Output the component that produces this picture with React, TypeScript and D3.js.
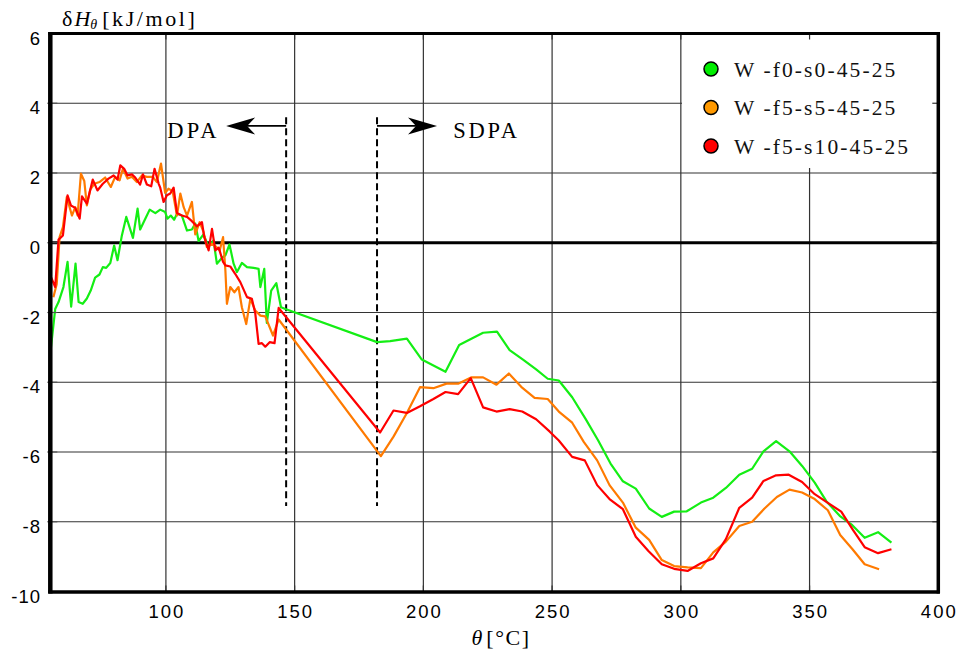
import React from "react";
import * as d3 from "d3";

const X_TICKS = [100, 150, 200, 250, 300, 350, 400];
const Y_TICKS = [6, 4, 2, 0, -2, -4, -6, -8, -10];

const greenSeries: [number, number][] = [
  [55.3, -3.04], [57, -1.9], [58.3, -1.7], [60.2, -1.27], [61.8, -0.55], [63.2, -1.83], [64.9, -0.6],
  [66.1, -1.7], [67.7, -1.75], [69.3, -1.6], [70.8, -1.37], [72.5, -1.0], [74.2, -0.91], [75.5, -0.7],
  [76.8, -0.72], [78.4, -0.58], [79.9, -0.08], [81.2, -0.5], [82.9, 0.21], [84.6, 0.74], [87.2, 0.14],
  [89.0, 0.98], [90.0, 0.38], [92.0, 0.69], [93.7, 0.95], [95.9, 0.85], [97.8, 0.95], [99.7, 0.88],
  [100.6, 0.69], [101.9, 0.78], [103.2, 0.66], [104.3, 0.83], [106.2, 0.78], [108.2, 0.35], [110.1, 0.38],
  [111.4, 0.55], [112.7, 0.05], [114.6, 0.24], [116.6, -0.12], [118.5, 0.07], [119.8, -0.6], [121.8, -0.43],
  [123.1, -0.36], [124.7, -0.05], [126.3, -0.6], [127.6, -0.84], [129.5, -0.58], [131.5, -0.7], [134.1, -0.72],
  [136.0, -0.75], [136.7, -1.27], [138.2, -0.75], [139.2, -2.3], [140.9, -1.37], [142.9, -1.16], [144.7, -1.85],
  [146.4, -1.9], [182.0, -2.85], [187.1, -2.82], [193.6, -2.75], [199.4, -3.35], [208.6, -3.7], [213.9, -2.93],
  [223.2, -2.58], [228.6, -2.55], [233.5, -3.08], [238.7, -3.35], [243.8, -3.63], [248.3, -3.9], [252.6, -3.95],
  [257.8, -4.43], [263.0, -5.05], [267.9, -5.67], [272.7, -6.33], [277.5, -6.84], [282.5, -7.05], [287.7, -7.62],
  [292.6, -7.86], [297.4, -7.71], [302.3, -7.7], [307.8, -7.45], [312.6, -7.31], [317.5, -7.03], [322.7, -6.65],
  [327.7, -6.48], [332.1, -5.98], [337.0, -5.69], [342.2, -5.98], [347.1, -6.4], [352.0, -6.88], [356.5, -7.41],
  [361.7, -7.83], [366.6, -8.1], [371.4, -8.46], [376.6, -8.3], [381.8, -8.6],
];

const orangeSeries: [number, number][] = [
  [56.3, -1.56], [57.6, -1.18], [58.7, 0.16], [60.0, 0.45], [61.5, 1.31], [63.5, 0.78], [64.8, 1.02],
  [65.7, 0.78], [67.0, 1.98], [68.3, 1.77], [69.3, 1.07], [70.6, 1.52], [72.2, 1.69], [74.2, 1.74],
  [76.4, 1.87], [78.6, 1.6], [80.3, 1.89], [82.0, 1.79], [83.3, 2.12], [85.1, 1.84], [86.8, 1.89],
  [88.7, 1.74], [90.7, 1.93], [92.6, 1.89], [94.9, 1.89], [96.5, 1.74], [98.1, 2.27], [99.7, 1.43],
  [101.0, 1.55], [102.6, 1.48], [104.3, 0.78], [105.6, 1.41], [106.9, 1.02], [108.2, 0.78], [110.1, 1.17],
  [111.4, 0.24], [113.1, 0.59], [114.6, 0.31], [115.9, -0.12], [117.9, -0.03], [119.6, -0.12], [120.9, -0.22],
  [122.2, 0.16], [123.1, -0.79], [123.7, -1.75], [125.0, -1.27], [126.6, -1.42], [128.2, -1.27], [129.5, -1.85],
  [131.2, -2.33], [132.8, -1.61], [134.7, -1.94], [136.7, -2.09], [138.6, -2.11], [141.6, -2.66], [143.8, -2.2],
  [183.5, -6.12], [188.4, -5.56], [193.6, -4.88], [198.7, -4.14], [203.9, -4.17], [209.0, -4.04], [213.5, -4.04],
  [218.7, -3.86], [223.2, -3.86], [228.4, -4.07], [233.2, -3.75], [238.0, -4.13], [243.2, -4.45], [248.3, -4.48],
  [252.6, -4.84], [257.8, -5.16], [262.3, -5.71], [267.5, -6.24], [272.3, -6.95], [277.5, -7.45], [282.5, -8.17],
  [287.7, -8.52], [292.6, -9.1], [297.4, -9.27], [302.6, -9.31], [307.8, -9.33], [312.6, -8.88], [317.5, -8.57],
  [322.7, -8.12], [327.7, -8.0], [332.5, -7.62], [337.3, -7.29], [342.2, -7.08], [347.1, -7.16], [352.0, -7.35],
  [357.1, -7.67], [361.9, -8.38], [366.6, -8.78], [371.4, -9.22], [377.0, -9.36],
];

const redSeries: [number, number][] = [
  [55.3, -0.97], [57.0, -1.27], [58.3, 0.09], [60.0, 0.21], [61.8, 1.36], [63.1, 1.07], [64.8, 1.0],
  [66.5, 0.69], [67.4, 1.33], [69.3, 1.12], [71.6, 1.81], [73.4, 1.5], [75.5, 1.69], [77.7, 1.84],
  [79.7, 1.93], [81.2, 1.81], [82.3, 2.22], [83.8, 2.12], [85.1, 1.93], [86.8, 1.96], [88.1, 1.87],
  [90.0, 1.67], [91.1, 1.96], [92.6, 1.67], [94.3, 1.62], [95.6, 2.12], [97.2, 1.69], [97.8, 1.58],
  [99.1, 1.17], [100.4, 1.36], [101.7, 1.41], [103.0, 1.58], [104.3, 0.85], [106.2, 0.78], [108.2, 0.74],
  [110.1, 0.62], [112.0, 0.47], [114.0, 0.59], [114.9, 0.16], [116.6, -0.22], [117.9, 0.4], [119.2, -0.22],
  [120.5, -0.14], [122.2, -0.55], [123.1, -0.65], [125.0, -0.68], [126.9, -0.89], [128.9, -1.13], [131.5, -1.56],
  [133.4, -1.61], [134.7, -2.02], [136.0, -2.9], [137.3, -2.88], [138.6, -2.98], [140.3, -2.85], [142.2, -2.88],
  [143.8, -1.87], [183.2, -5.44], [188.4, -4.81], [193.6, -4.88], [198.7, -4.69], [203.9, -4.48], [208.6, -4.28],
  [213.5, -4.34], [218.4, -3.88], [223.2, -4.72], [228.4, -4.84], [233.5, -4.77], [238.4, -4.84], [243.8, -5.06],
  [249.0, -5.41], [252.6, -5.67], [257.8, -6.14], [262.7, -6.24], [267.5, -6.95], [272.3, -7.35], [277.5, -7.64],
  [282.5, -8.43], [287.4, -8.84], [292.6, -9.22], [297.4, -9.35], [302.6, -9.41], [307.8, -9.19], [312.6, -9.05],
  [317.5, -8.5], [322.7, -7.6], [327.7, -7.31], [332.1, -6.83], [337.0, -6.67], [341.9, -6.65], [347.1, -6.86],
  [352.0, -7.21], [357.1, -7.46], [362.3, -7.71], [366.9, -8.24], [371.4, -8.73], [376.6, -8.9], [381.8, -8.79],
];

const SERIES_NAMES = ["W -f0-s0-45-25", "W -f5-s5-45-25", "W -f5-s10-45-25"];
const LINE_COLORS = ["#14ee14", "#ff7a00", "#ff0000"];
const MARKER_COLORS = ["#00ee00", "#ff9900", "#ff0000"];
const ALL_SERIES = [greenSeries, orangeSeries, redSeries];

const DPA_X = 146.7;
const SDPA_X = 182.0;

const SERIF = "'Liberation Serif', 'Times New Roman', serif";
const SANS = "'Liberation Sans', Arial, sans-serif";

export default function App() {
  const L = 50.3, R = 938.3, T = 33.5, B = 591.5;
  const x = d3.scaleLinear().domain([55.1, 400]).range([L, R]);
  const y = d3.scaleLinear().domain([-10, 6]).range([B, T]);
  const line = d3.line<[number, number]>().x((d) => x(d[0])).y((d) => y(d[1]));

  const arrowY = y(3.35);
  const dashTop = y(3.6);
  const dashBot = y(-7.55);

  return (
    <svg width={958} height={652} style={{ position: "absolute", left: 0, top: 0, background: "#fff" }}>
      <rect x={0} y={0} width={958} height={652} fill="#fff" />
      {/* grid */}
      {X_TICKS.filter((t) => t < 400).map((t) => (
        <line key={"gx" + t} x1={x(t)} x2={x(t)} y1={T} y2={B} stroke="#333" strokeWidth={1.2} />
      ))}
      {Y_TICKS.filter((t) => t !== 6 && t !== -10 && t !== 0).map((t) => (
        <line key={"gy" + t} x1={L} x2={R} y1={y(t)} y2={y(t)} stroke="#333" strokeWidth={1.2} />
      ))}
      <line x1={L} x2={R} y1={y(0)} y2={y(0)} stroke="#000" strokeWidth={3} />

      {/* dashed markers */}
      {[DPA_X, SDPA_X].map((v) => (
        <line key={"d" + v} x1={x(v)} x2={x(v)} y1={dashTop} y2={dashBot} stroke="#000" strokeWidth={2} strokeDasharray="7,4" />
      ))}

      {/* series */}
      {ALL_SERIES.map((s, i) => (
        <path key={"s" + i} d={line(s) || ""} fill="none" stroke={LINE_COLORS[i]} strokeWidth={2.2} strokeLinejoin="round" />
      ))}

      {/* annotations */}
      <line x1={x(DPA_X)} x2={x(DPA_X) - 50} y1={arrowY} y2={arrowY} stroke="#000" strokeWidth={1.8} />
      <path
        d={`M${x(DPA_X) - 60},${arrowY} L${x(DPA_X) - 31},${arrowY - 8.5} L${x(DPA_X) - 39},${arrowY} L${x(DPA_X) - 31},${arrowY + 8.5} Z`}
        fill="#000"
      />
      <text x={x(100.5)} y={y(3.0)} fontFamily={SERIF} fontSize={22.5} letterSpacing={3.2} fill="#000">DPA</text>

      <line x1={x(SDPA_X)} x2={x(SDPA_X) + 50} y1={arrowY} y2={arrowY} stroke="#000" strokeWidth={1.8} />
      <path
        d={`M${x(SDPA_X) + 60},${arrowY} L${x(SDPA_X) + 31},${arrowY - 8.5} L${x(SDPA_X) + 39},${arrowY} L${x(SDPA_X) + 31},${arrowY + 8.5} Z`}
        fill="#000"
      />
      <text x={x(211.6)} y={y(3.0)} fontFamily={SERIF} fontSize={22.5} letterSpacing={2.8} fill="#000">SDPA</text>

      {/* legend */}
      <rect x={682} y={T + 1.5} width={R - 682 - 1.5} height={133} fill="#fff" />
      {SERIES_NAMES.map((n, i) => (
        <g key={"lg" + i}>
          <circle cx={711} cy={69 + i * 38.5} r={7} fill={MARKER_COLORS[i]} stroke="#000" strokeWidth={1.5} />
          <text x={734} y={76.5 + i * 38.5} fontFamily={SERIF} fontSize={21.5} letterSpacing={2.1} fill="#111">{n}</text>
        </g>
      ))}

      {/* inner ticks */}
      {X_TICKS.filter((t) => t < 400).map((t) => (
        <g key={"tx" + t}>
          <line x1={x(t)} x2={x(t)} y1={T} y2={T + 6} stroke="#333" strokeWidth={1.2} />
          <line x1={x(t)} x2={x(t)} y1={B - 6} y2={B} stroke="#333" strokeWidth={1.2} />
        </g>
      ))}
      {Y_TICKS.filter((t) => t !== 6 && t !== -10).map((t) => (
        <g key={"ty" + t}>
          <line x1={L - 3} x2={L + 7} y1={y(t)} y2={y(t)} stroke="#555" strokeWidth={1.2} />
          <line x1={R - 6} x2={R} y1={y(t)} y2={y(t)} stroke="#333" strokeWidth={1.2} />
        </g>
      ))}

      {/* frame */}
      <line x1={L} x2={L} y1={T - 1.5} y2={B + 2} stroke="#000" strokeWidth={4.5} />
      <line x1={L - 2} x2={R + 1.5} y1={T} y2={T} stroke="#000" strokeWidth={3} />
      <line x1={R} x2={R} y1={T - 1.5} y2={B + 2} stroke="#000" strokeWidth={3.5} />
      <line x1={L - 2} x2={R + 1.5} y1={B + 0.5} y2={B + 0.5} stroke="#000" strokeWidth={3.5} />

      {/* tick labels */}
      {Y_TICKS.map((t) => (
        <text key={"ly" + t} x={41} y={y(t) + 11} textAnchor="end" fontFamily={SANS} fontSize={18.5} letterSpacing={1} fill="#000">
          {t}
        </text>
      ))}
      {X_TICKS.map((t) => (
        <text key={"lx" + t} x={x(t) + 1} y={618} textAnchor="middle" fontFamily={SANS} fontSize={18.5} letterSpacing={2} fill="#000">
          {t}
        </text>
      ))}

      {/* axis titles */}
      <text x={501} y={645} textAnchor="middle" fontFamily={SERIF} fontSize={22} fill="#000">
        <tspan fontStyle="italic">θ</tspan>
        <tspan dx={4} letterSpacing={1.5}>[°C]</tspan>
      </text>
      <text x={62} y={26} fontFamily={SERIF} fontSize={22} fill="#000">
        <tspan>δ</tspan>
        <tspan fontStyle="italic" dx={2}>H</tspan>
        <tspan fontStyle="italic" fontSize={14} dy={3}>θ</tspan>
        <tspan dx={5} dy={-3} letterSpacing={2.6}>[kJ/mol]</tspan>
      </text>
    </svg>
  );
}
